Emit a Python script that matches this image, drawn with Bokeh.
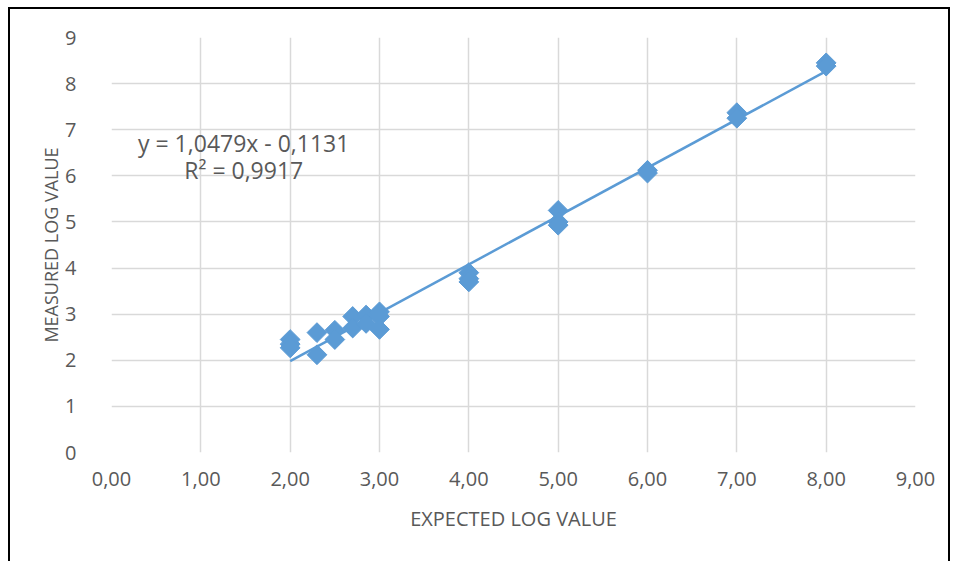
import math
from bokeh.plotting import figure
from bokeh.models import ColumnDataSource, FixedTicker
from bokeh.embed import file_html
from bokeh.resources import INLINE
from bokeh.core.properties import value

expected = [2, 2, 2, 2.3, 2.3, 2.5, 2.5, 2.7, 2.7, 2.85, 2.85, 3, 3, 3,
            4, 4, 4, 5, 5, 5, 6, 6, 7, 7, 8, 8]
measured = [2.45, 2.35, 2.27, 2.6, 2.12, 2.65, 2.45, 2.95, 2.7, 2.98, 2.8, 3.05, 2.95, 2.67,
            3.9, 3.77, 3.7, 5.25, 5.0, 4.93, 6.12, 6.06, 7.37, 7.25, 8.45, 8.38]
slope = 1.0479
intercept = -0.1131
fit_x = [2, 8]
x_ticks = [0, 1, 2, 3, 4, 5, 6, 7, 8, 9]
x_tick_labels = ["0,00", "1,00", "2,00", "3,00", "4,00", "5,00", "6,00", "7,00", "8,00", "9,00"]
y_ticks = [0, 1, 2, 3, 4, 5, 6, 7, 8, 9]
eq_text = ["y = 1,0479x - 0,1131", "R² = 0,9917"]
eq_x = [1.48, 1.48]
eq_y = [6.72, 6.13]

BLUE = "#5b9bd5"
GRAY = "#595959"
FONT = "Open Sans"

p = figure(width=942, height=554, x_range=(0, 9), y_range=(0, 9),
           output_backend="svg", toolbar_location=None,
           min_border_left=101, min_border_right=37, min_border_top=28, min_border_bottom=111)
p.styles = {"border-left": "2px solid black", "border-top": "2px solid black",
            "border-right": "2px solid black", "margin-left": "8px", "margin-top": "7px"}
p.outline_line_color = None
p.background_fill_color = "white"
p.border_fill_color = "white"

for ax in (p.xaxis[0], p.yaxis[0]):
    ax.axis_line_color = None
    ax.major_tick_line_color = None
    ax.minor_tick_line_color = None
    ax.major_label_text_color = GRAY
    ax.major_label_text_font = FONT
    ax.major_label_text_font_size = "20px"
    ax.axis_label_text_color = GRAY
    ax.axis_label_text_font = FONT
    ax.axis_label_text_font_style = "normal"

p.xaxis.axis_label_text_font_size = "20px"
p.yaxis.axis_label_text_font_size = "18px"
p.xaxis.ticker = FixedTicker(ticks=x_ticks)
p.xaxis.major_label_overrides = {t: l for t, l in zip(x_ticks, x_tick_labels)}
p.yaxis.ticker = FixedTicker(ticks=y_ticks)
p.xaxis.axis_label = "EXPECTED LOG VALUE"
p.yaxis.axis_label = "MEASURED LOG VALUE"
p.xaxis.major_label_standoff = 13
p.yaxis.major_label_standoff = 29
p.xaxis.axis_label_standoff = 16
p.yaxis.axis_label_standoff = -1

p.grid.grid_line_color = "#d9d9d9"
p.grid.grid_line_width = 1.5

fit_y = [slope * x + intercept for x in fit_x]
p.line(fit_x, fit_y, line_color=BLUE, line_width=2.5)

src = ColumnDataSource(dict(x=expected, y=measured))
p.scatter("x", "y", source=src, marker="square", angle=math.pi / 4, size=14,
          fill_color=BLUE, line_color=BLUE)

p.text(x=eq_x, y=eq_y, text=eq_text, text_font=value(FONT), text_font_size="23px",
       text_color=GRAY, text_align="center", text_baseline="middle")

open("out.html", "w").write(file_html(p, INLINE))
